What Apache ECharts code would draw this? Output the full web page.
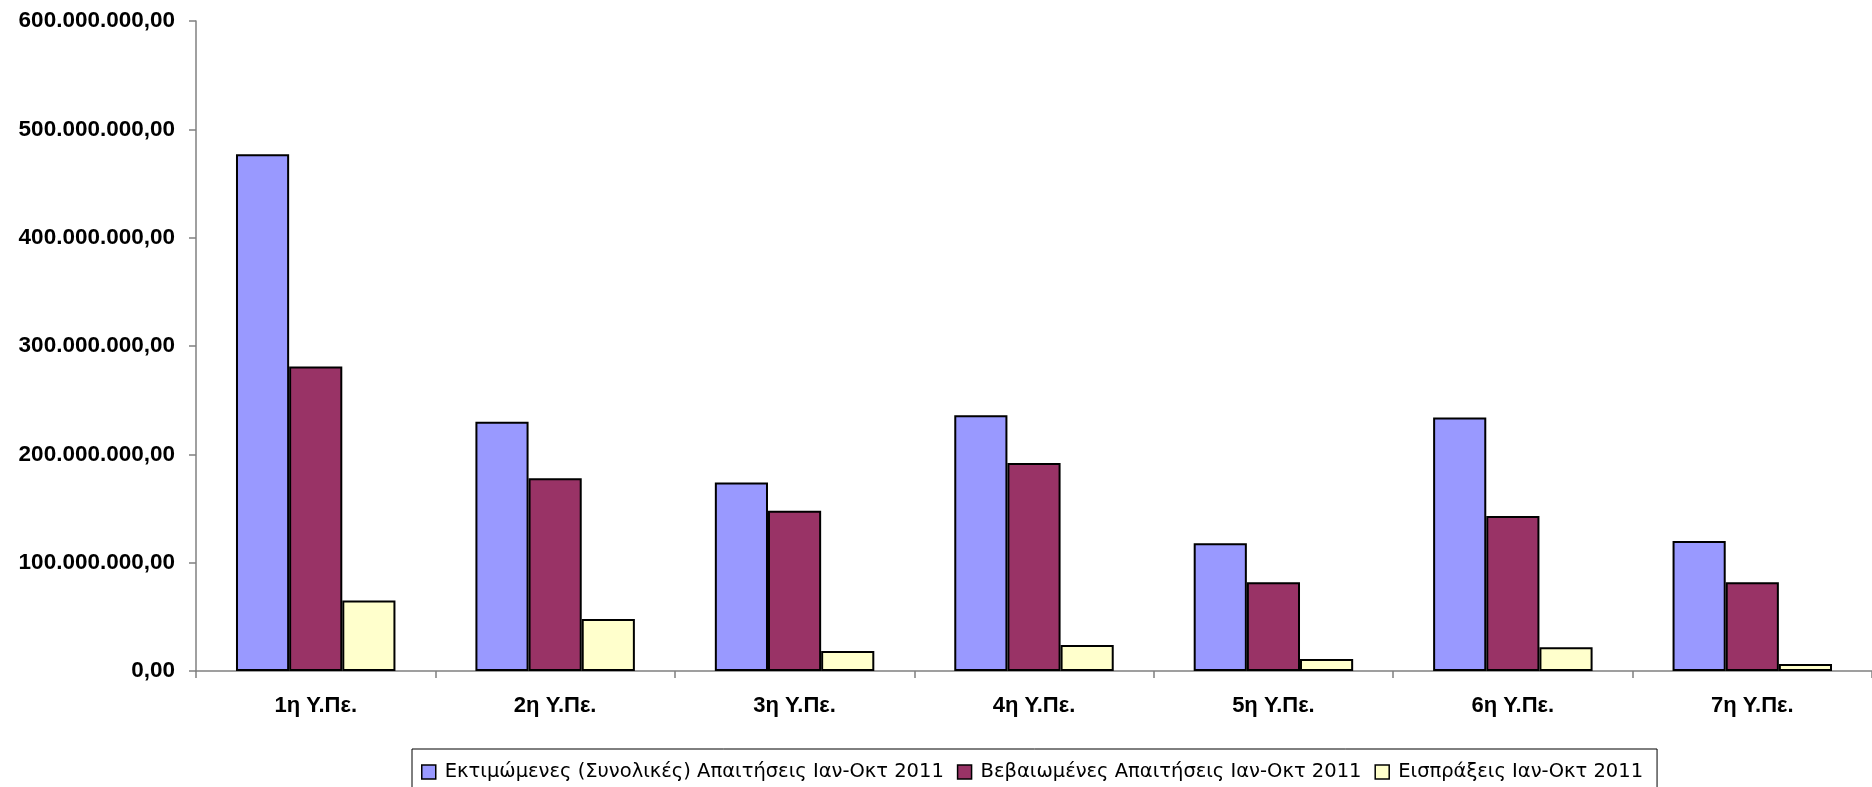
<!DOCTYPE html>
<html>
<head>
<meta charset="utf-8">
<script src="https://cdn.jsdelivr.net/npm/echarts@6/dist/echarts.min.js"></script>
<style>
html,body{margin:0;padding:0;background:#fff;}
#chart{width:1872px;height:787px;}
</style>
</head>
<body>
<div id="chart"></div>
<script>
const categories = ['1η Υ.Πε.', '2η Υ.Πε.', '3η Υ.Πε.', '4η Υ.Πε.', '5η Υ.Πε.', '6η Υ.Πε.', '7η Υ.Πε.'];
const seriesNames = ['Εκτιμώμενες (Συνολικές) Απαιτήσεις Ιαν-Οκτ 2011', 'Βεβαιωμένες Απαιτήσεις Ιαν-Οκτ 2011', 'Εισπράξεις Ιαν-Οκτ 2011'];
const estimated = [477000000, 230000000, 174000000, 236000000, 118000000, 234000000, 120000000];
const certified = [281000000, 178000000, 148000000, 192000000, 82000000, 143000000, 82000000];
const collected = [65000000, 48000000, 18500000, 24000000, 11000000, 22000000, 6500000];
const yMin = 0, yMax = 600000000, yInterval = 100000000;

const colors = ['#9999FF', '#993366', '#FFFFCC'];

function fmt(v) {
  return String(Math.round(v)).replace(/\B(?=(\d{3})+(?!\d))/g, '.') + ',00';
}

const chart = echarts.init(document.getElementById('chart'), null, {renderer: 'canvas'});
const data = [estimated, certified, collected];
chart.setOption({
  animation: false,
  backgroundColor: '#ffffff',
  grid: {left: 196, top: 21, width: 1678, height: 650, containLabel: false},
  legend: {
    left: 412, top: 749,
    padding: [13, 14, 14, 9],
    borderColor: '#000', borderWidth: 1,
    itemWidth: 14, itemHeight: 14, itemGap: 13,
    icon: 'rect',
    textStyle: {fontFamily: 'DejaVu Sans', fontSize: 19.5, color: '#000', padding: [0, 0, 0, 4]},
    data: seriesNames.map((n, i) => ({name: n, itemStyle: {color: colors[i], borderColor: '#000', borderWidth: 1.5}}))
  },
  xAxis: {
    type: 'category',
    data: categories,
    axisLine: {lineStyle: {color: '#808080', width: 1.5}},
    axisTick: {show: true, length: 7, lineStyle: {color: '#808080', width: 1.5}, alignWithLabel: false},
    axisLabel: {margin: 24, color: '#000', fontFamily: 'Liberation Sans', fontWeight: 'bold', fontSize: 22}
  },
  yAxis: {
    type: 'value',
    min: yMin, max: yMax, interval: yInterval,
    axisLine: {show: true, lineStyle: {color: '#808080', width: 1.5}},
    axisTick: {show: true, length: 7, lineStyle: {color: '#808080', width: 1.5}},
    splitLine: {show: false},
    axisLabel: {margin: 21, color: '#000', fontFamily: 'Liberation Sans', fontWeight: 'bold', fontSize: 22.5, formatter: fmt}
  },
  series: data.map((d, i) => ({
    name: seriesNames[i],
    type: 'bar',
    data: d,
    barGap: '0%',
    barCategoryGap: '33.4%',
    itemStyle: {color: colors[i], borderColor: '#000', borderWidth: 2}
  }))
});
</script>
</body>
</html>
